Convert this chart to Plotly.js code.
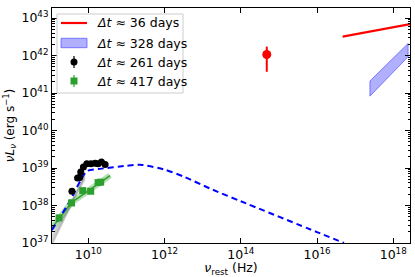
<!DOCTYPE html>
<html><head><meta charset="utf-8">
<script src="https://cdn.plot.ly/plotly-3.0.1.min.js"></script>
<style>body{margin:0;background:#fff}#c{width:415px;height:277px}</style>
</head><body><div id="c"></div>
<script>
// 36 days (red)
const red36_x = [4.7e16, 3.0e18];
const red36_y = [3.2e42, 7.0e42];
const redPt_x = [4.8e14];
const redPt_y = [1.07e42];
const redPt_up = [0.67e42];
const redPt_dn = [0.70e42];
// 328 days band (polygon)
const band_x = [2.45e17, 2.45e18, 2.45e18, 2.45e17, 2.45e17];
const band_y = [2.1e41, 2.1e42, 9.3e41, 8.3e40, 2.1e41];
// 261 days (black)
const blk_x = [3.7e9, 5.2e9, 5.9e9, 6.3e9, 7.4e9, 9.1e9, 1.17e10, 1.5e10, 1.8e10, 2.2e10, 2.75e10];
const blk_y = [2.4e38, 5.4e38, 5.6e38, 7.8e38, 1.07e39, 1.3e39, 1.3e39, 1.35e39, 1.3e39, 1.45e39, 1.25e39];
// 417 days (green)
const grn_x = [1.7e9, 3.6e9, 7.1e9, 1.15e10, 1.8e10, 2.1e10];
const grn_y = [4.7e37, 1.17e38, 2.5e38, 2.4e38, 4.1e38, 4.2e38];
const grnFit_x = [1.1e9, 3.6e9, 3.7e10];
const grnFit_y = [2.5e37, 1.2e38, 6.3e38];
// model (blue dashed)
const mod_x = [1.1e9, 3.2e9, 9.1e9, 2.0e10, 1.0e11, 2.3e11, 1.0e12, 3.2e12, 1.6e13, 1.0e14, 1.0e16, 5.1e16];
const mod_y = [2.2e37, 1.26e38, 8.3e38, 9.5e38, 1.15e39, 1.23e39, 9.1e38, 5.9e38, 2.8e38, 1.3e38, 1.95e37, 1.0e37];
// gray fit samples
const gray_x = [1.1e9, 8.0e9];
const gray_y1 = [1.0e37, 5.5e38];
const gray_y2 = [1.2e37, 6.0e38];
const gray_y3 = [1.5e37, 5.0e38];
const gray_y4 = [0.9e37, 6.5e38];
// tick labels
const xTickVals = [1e10, 1e12, 1e14, 1e16, 1e18];
const xTickText = ['10<sup>10</sup>', '10<sup>12</sup>', '10<sup>14</sup>', '10<sup>16</sup>', '10<sup>18</sup>'];
const yTickVals = [1e37, 1e38, 1e39, 1e40, 1e41, 1e42, 1e43];
const yTickText = ['10<sup>37</sup>', '10<sup>38</sup>', '10<sup>39</sup>', '10<sup>40</sup>', '10<sup>41</sup>', '10<sup>42</sup>', '10<sup>43</sup>'];
// legend labels
const legendLabels = ['36', '328', '261', '417'];

const lt = s => '<i>Δt</i> ≈ ' + s + ' days';
const traces = [];
[gray_y1, gray_y2, gray_y3, gray_y4].forEach(gy => traces.push({
  x: gray_x, y: gy, mode: 'lines', line: {color: 'rgba(150,150,150,0.35)', width: 2}, showlegend: false, hoverinfo: 'skip'
}));
traces.push({x: grnFit_x, y: grnFit_y, mode: 'lines', line: {color: 'rgba(44,160,44,0.35)', width: 6}});
traces.push({x: grnFit_x, y: grnFit_y, mode: 'lines', line: {color: '#2ca02c', width: 1.5}});
traces.push({x: mod_x, y: mod_y, mode: 'lines', line: {color: '#0000ff', width: 2, dash: '6px,4px', shape: 'spline', smoothing: 0.6}});
traces.push({x: red36_x, y: red36_y, mode: 'lines', line: {color: '#ff0000', width: 2.2}, name: lt(legendLabels[0])});
traces.push({x: band_x, y: band_y, mode: 'lines', fill: 'toself', fillcolor: 'rgba(80,80,255,0.45)', line: {color: 'rgba(80,80,255,0.7)', width: 1}, name: lt(legendLabels[1])});
traces.push({x: blk_x, y: blk_y, mode: 'markers', marker: {color: 'black', size: 7}, name: lt(legendLabels[2])});
traces.push({x: grn_x, y: grn_y, mode: 'markers', marker: {color: '#2ca02c', size: 7, symbol: 'square'}, name: lt(legendLabels[3])});
traces.push({x: redPt_x, y: redPt_y, mode: 'markers', marker: {color: '#ff0000', size: 9},
  error_y: {type: 'data', symmetric: false, array: redPt_up, arrayminus: redPt_dn, color: '#ff0000', thickness: 2, width: 0}});

// custom legend (pixel-based layout inside the plot area)
const W = 415, H = 277, ML = 52, MR = 5, MT = 8, MB = 34;
const PW = W - ML - MR, PH = H - MT - MB;
const px = v => (v - ML) / PW;
const py = v => (H - MB - v) / PH;
const shapes = [];
const annotations = [];
shapes.push({type: 'rect', xref: 'paper', yref: 'paper', x0: px(57), x1: px(183), y0: py(93), y1: py(14),
  line: {color: '#cccccc', width: 1}, fillcolor: 'rgba(255,255,255,0.85)', layer: 'above'});
const rows = [23, 43, 62, 81];
// row 1: red line
shapes.push({type: 'line', xref: 'paper', yref: 'paper', x0: px(61), x1: px(87), y0: py(rows[0]), y1: py(rows[0]),
  line: {color: '#ff0000', width: 2.2}, layer: 'above'});
// row 2: blue patch
shapes.push({type: 'rect', xref: 'paper', yref: 'paper', x0: px(61), x1: px(87), y0: py(rows[1] + 4.7), y1: py(rows[1] - 4.7),
  line: {color: 'rgba(80,80,255,0.7)', width: 1}, fillcolor: 'rgba(80,80,255,0.45)', layer: 'above'});
// row 3: black marker with error bar
shapes.push({type: 'line', xref: 'paper', yref: 'paper', x0: px(74), x1: px(74), y0: py(rows[2] + 6), y1: py(rows[2] - 6),
  line: {color: 'black', width: 1.2}, layer: 'above'});
shapes.push({type: 'circle', xref: 'paper', yref: 'paper', x0: px(70.5), x1: px(77.5), y0: py(rows[2] + 3.5), y1: py(rows[2] - 3.5),
  line: {color: 'black', width: 0}, fillcolor: 'black', layer: 'above'});
// row 4: green marker with error bar
shapes.push({type: 'line', xref: 'paper', yref: 'paper', x0: px(74), x1: px(74), y0: py(rows[3] + 6), y1: py(rows[3] - 6),
  line: {color: '#2ca02c', width: 1.2}, layer: 'above'});
shapes.push({type: 'rect', xref: 'paper', yref: 'paper', x0: px(70.5), x1: px(77.5), y0: py(rows[3] + 3.5), y1: py(rows[3] - 3.5),
  line: {color: '#2ca02c', width: 0}, fillcolor: '#2ca02c', layer: 'above'});
legendLabels.forEach((s, i) => annotations.push({xref: 'paper', yref: 'paper', x: px(95), y: py(rows[i]),
  xanchor: 'left', yanchor: 'middle', showarrow: false, text: lt(s), font: {family: 'DejaVu Sans', size: 12.5, color: 'black'}}));

const layout = {
  width: W, height: H,
  margin: {l: ML, r: MR, t: MT, b: MB},
  paper_bgcolor: 'white', plot_bgcolor: 'white',
  font: {family: 'DejaVu Sans', size: 12, color: 'black'},
  showlegend: false,
  shapes: shapes,
  annotations: annotations,
  xaxis: {type: 'log', range: [9.045, 18.44], tickmode: 'array', tickvals: xTickVals, ticktext: xTickText,
    ticks: 'inside', ticklen: 5, tickcolor: 'black', mirror: 'allticks', showline: true, linecolor: 'black', linewidth: 1,
    showgrid: false, zeroline: false, tickfont: {size: 12.5},
    title: {text: '<i>ν</i><sub>rest</sub> (Hz)', font: {size: 12.5}, standoff: 12}},
  yaxis: {type: 'log', range: [37, 43.27], tickmode: 'array', tickvals: yTickVals, ticktext: yTickText,
    ticks: 'inside', ticklen: 5, tickcolor: 'black', mirror: 'allticks', showline: true, linecolor: 'black', linewidth: 1,
    showgrid: false, zeroline: false, tickfont: {size: 12.5},
    minor: {ticks: 'inside', ticklen: 2.5, tickcolor: 'black', showgrid: false, dtick: 'D1'},
    title: {text: '<i>νL<sub>ν</sub></i> (erg s<sup>−1</sup>)', font: {size: 12}, standoff: 4}}
};
Plotly.newPlot('c', traces, layout, {displayModeBar: false, staticPlot: true});
</script></body></html>
